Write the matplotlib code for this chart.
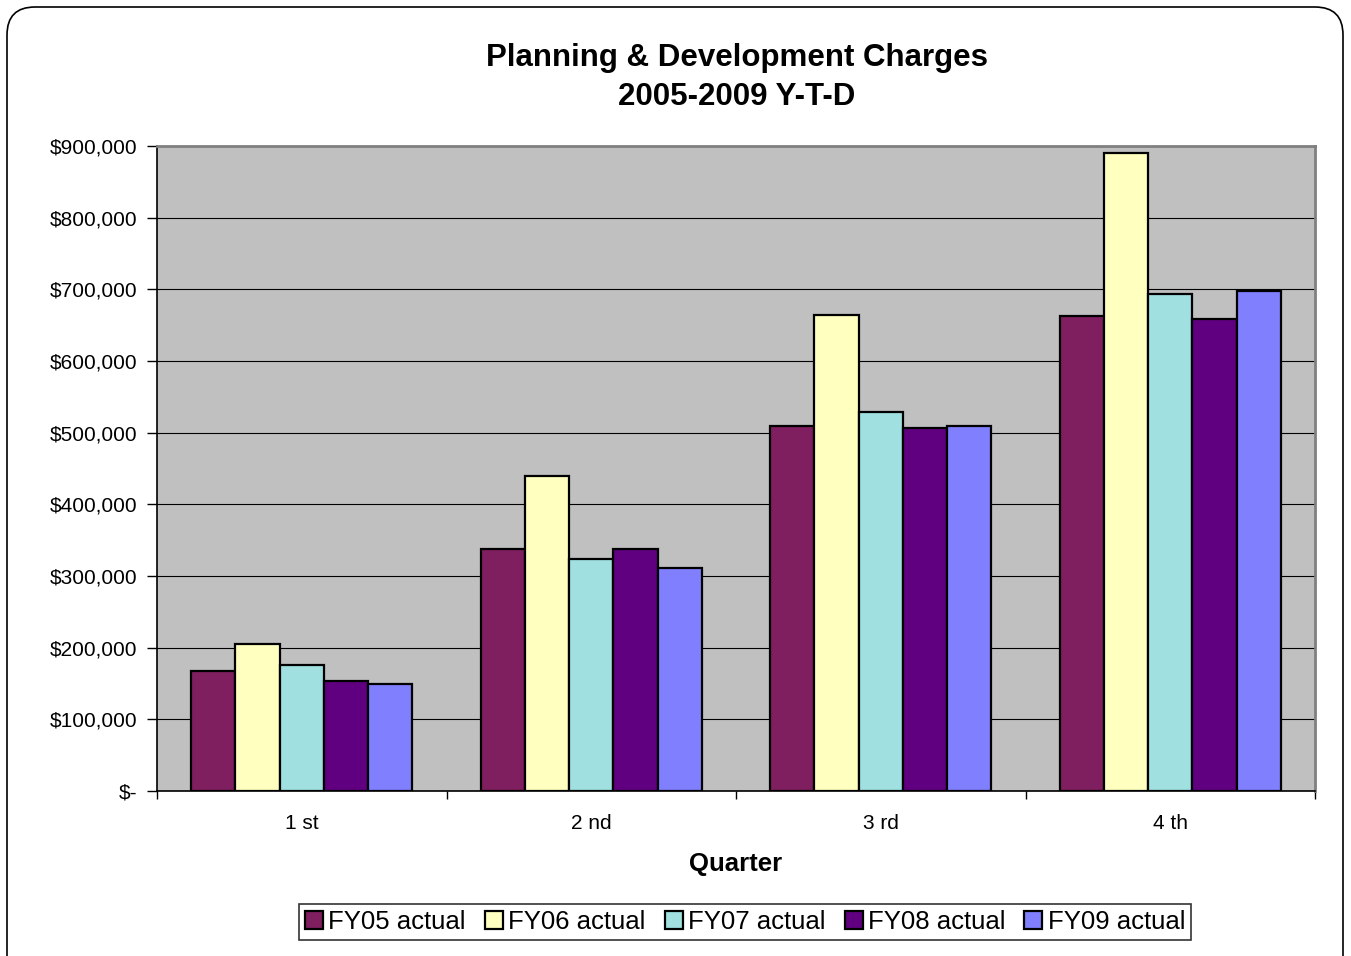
import numpy as np
import matplotlib
matplotlib.use('Agg')
import matplotlib.pyplot as plt
from matplotlib.patches import FancyBboxPatch
from matplotlib.ticker import FuncFormatter

# values (dollars)
quarters = ['1 st', '2 nd', '3 rd', '4 th']
series_names = ['FY05 actual', 'FY06 actual', 'FY07 actual', 'FY08 actual', 'FY09 actual']
fy05 = [167000, 338000, 509000, 663000]
fy06 = [205000, 440000, 664000, 890000]
fy07 = [176000, 324000, 529000, 694000]
fy08 = [154000, 337000, 506000, 659000]
fy09 = [150000, 311000, 510000, 697000]
colors = ['#7F1F5F', '#FFFFC0', '#A0E0E0', '#600080', '#8080FF']

plt.rcParams['font.family'] = ['Liberation Sans', 'DejaVu Sans']

fig = plt.figure(figsize=(13.51, 9.56), dpi=100)
ax = fig.add_axes([157/1351, 1-791/956, (1315-157)/1351, (791-146)/956])
ax.set_facecolor('#C0C0C0')

x = np.arange(len(quarters))
w = 0.153
all_series = [fy05, fy06, fy07, fy08, fy09]
for i, vals in enumerate(all_series):
    ax.bar(x + (i-2)*w, vals, width=w, color=colors[i], edgecolor='black',
           linewidth=1.6, label=series_names[i], zorder=3)

ax.set_xlim(-0.5, len(quarters)-0.5)
ax.set_ylim(0, 900000)
ax.set_yticks(np.arange(0, 900001, 100000))
ax.yaxis.set_major_formatter(FuncFormatter(lambda v, p: '$-' if v == 0 else '${:,.0f}'.format(v)))
ax.grid(True, axis='y', color='black', linewidth=0.8, zorder=1)

# category labels at centres, tick marks on the boundaries
ax.set_xticks(x)
ax.set_xticklabels(quarters)
ax.set_xticks(np.arange(-0.5, len(quarters)), minor=True)
ax.tick_params(axis='x', which='major', length=0, pad=16.5, labelsize=15)
ax.tick_params(axis='x', which='minor', length=6, width=1, direction='out')
ax.tick_params(axis='y', length=7, width=1, direction='out', pad=7, labelsize=15)

for s in ['top', 'right']:
    ax.spines[s].set_color('#808080')
    ax.spines[s].set_linewidth(2)
for s in ['left', 'bottom']:
    ax.spines[s].set_color('black')
    ax.spines[s].set_linewidth(1.2)

ax.set_xlabel('Quarter', fontsize=18.5, fontweight='bold', labelpad=14)
fig.text(737/1351, 1-77.5/956, 'Planning & Development Charges\n2005-2009 Y-T-D',
         ha='center', va='center', fontsize=22.5, fontweight='bold', linespacing=1.42)

leg = fig.legend(loc='center', bbox_to_anchor=(745/1351, 1-922/956), ncol=5,
                 fontsize=18.5, frameon=True, fancybox=False, edgecolor='black',
                 handlelength=0.7, handleheight=0.7, handletextpad=0.2,
                 columnspacing=0.75, borderpad=0.25)
leg.get_frame().set_linewidth(1.2)

# rounded border around the whole chart
border = FancyBboxPatch((0.07, -0.3), 13.36, 9.79, boxstyle='round,pad=0,rounding_size=0.28',
                        transform=fig.dpi_scale_trans, facecolor='none',
                        edgecolor='black', linewidth=1.2)
fig.add_artist(border)

fig.savefig('out.png', dpi=100)
